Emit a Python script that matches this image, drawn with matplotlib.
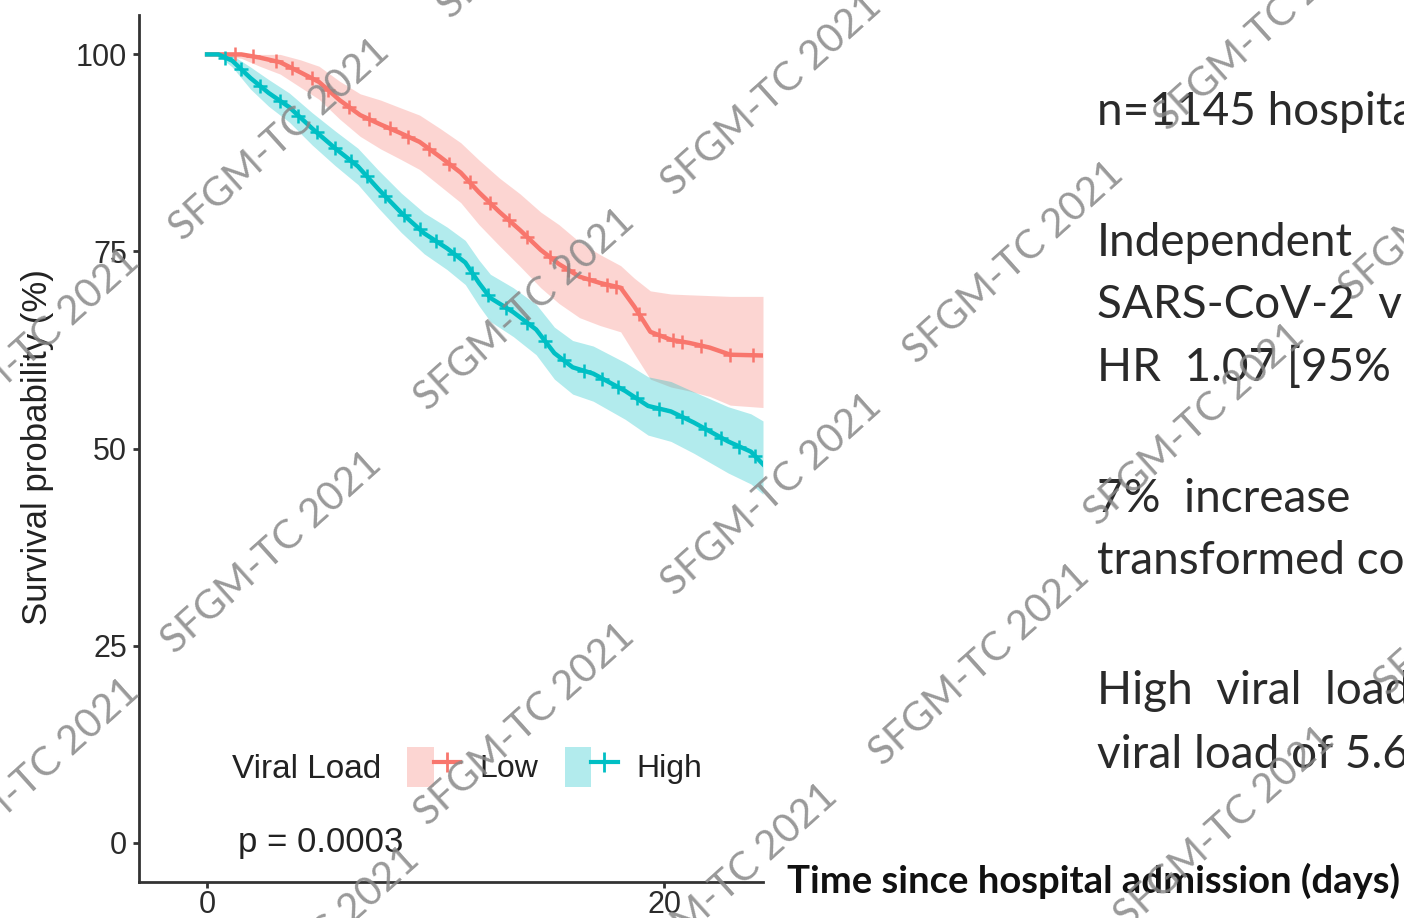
import numpy as np
import matplotlib
matplotlib.use("Agg")
import matplotlib.pyplot as plt
from matplotlib.patches import Patch
from matplotlib.lines import Line2D
from matplotlib.legend_handler import HandlerTuple

# ---------------- data ----------------
groups = ["Low", "High"]
colors = ["#F8766D", "#00BFC4"]

low_t = [0, 1.5, 2.3, 3.2, 4.1, 4.9, 5.8, 6.7, 7.6, 8.4, 9.3, 10.2, 11.1, 11.9, 12.8,
         13.7, 14.6, 15.4, 16.3, 17.2, 18.1, 18.7, 19.4, 20.3, 21.1, 22.0, 22.9, 24.33]
low_s = [100, 100, 99.6, 99, 97.7, 96.5, 94.2, 92.3, 91.1, 90.1, 88.9, 87, 85, 82.5, 80,
         77.7, 75.2, 73.4, 71.8, 71, 70.4, 68, 64.8, 63.8, 63.4, 62.8, 61.9, 61.8]
low_hi = [100, 100, 100, 100, 99.3, 98.5, 96.6, 95, 94.2, 93.3, 92.3, 90.6, 88.8, 86.6,
          84.3, 82.3, 80, 78.4, 76.2, 74.6, 73.2, 71.6, 70, 69.6, 69.5, 69.4, 69.3, 69.3]
low_lo = [100, 99.5, 98.5, 97.5, 95.8, 94.3, 91.8, 89.6, 88, 86.8, 85.4, 83.3, 81.2, 78.4,
          75.7, 73.1, 70.4, 68.4, 66.6, 65.6, 64.8, 62, 58.8, 57.8, 57.3, 56.6, 55.5, 55.2]
low_cens = [1.2, 2.0, 3.0, 3.7, 4.6, 5.3, 6.2, 7.1, 8.0, 8.8, 9.7, 10.6, 11.5, 12.4,
            13.2, 14.0, 15.0, 15.8, 16.7, 17.5, 17.9, 18.9, 19.8, 20.4, 20.8, 21.6,
            22.9, 23.9]

high_t = [0, 0.5, 1.1, 1.9, 2.7, 3.6, 4.6, 5.6, 6.6, 7.5, 8.5, 9.5, 10.5, 11.3, 11.9,
          12.4, 13.4, 14.4, 15.2, 16.0, 16.9, 18.3, 19.3, 20.3, 21.3, 22.8, 23.8, 24.33]
high_s = [100, 100, 99.2, 97, 95.1, 93.3, 90.6, 88.1, 85.8, 82.9, 79.9, 77.3, 75.4, 73.6,
          71, 69.1, 67.3, 65.1, 62.1, 60.3, 59.5, 57.3, 55.4, 54.7, 53.3, 50.9, 49.6, 48]
high_hi = [100, 100, 99.9, 98.4, 96.8, 95.1, 92.6, 90.3, 88.1, 85.3, 82.4, 79.9, 78.1,
           76.4, 73.9, 72.1, 70.4, 68.3, 65.4, 63.7, 63, 60.9, 59.1, 58.5, 57.2, 55.3,
           54.4, 53.5]
high_lo = [100, 99.8, 98.4, 95.6, 93.4, 91.4, 88.5, 85.9, 83.5, 80.5, 77.4, 74.7, 72.7,
           70.8, 68.1, 66.1, 64.2, 61.9, 58.8, 56.9, 56, 53.7, 51.7, 50.9, 49.4, 46.9,
           45.5, 44.2]
high_cens = [0.8, 1.5, 2.3, 3.2, 4.0, 4.8, 5.6, 6.3, 7.0, 7.8, 8.6, 9.3, 10.0, 10.8, 11.6,
             12.3, 13.1, 14.0, 14.8, 15.6, 16.5, 17.3, 18.0, 18.8, 19.8, 20.8, 21.8,
             22.5, 23.3, 24.0]

y_ticks = [0, 25, 50, 75, 100]
x_ticks = [0, 20]
y_label = "Survival probability (%)"
x_label = "Time since hospital admission (days)"
legend_title = "Viral Load"
p_text = "p = 0.0003"

side_lines = [
    ("n=1145 hospita", 125),
    ("Independent", 256),
    ("SARS-CoV-2  vi", 318),
    ("HR  1.07 [95%", 381),
    ("7%  increase", 512),
    ("transformed co", 574),
    ("High  viral  load", 704),
    ("viral load of 5.6", 768),
]
watermark = "SFGM-TC 2021"
wm_centers = [(280, 140), (772, 95), (1014, 263), (525, 310), (272, 553), (772, 495),
              (525, 725), (980, 665), (30, 350), (30, 780), (310, 948), (728, 885),
              (1265, 30), (1195, 425), (1450, 200), (1485, 595), (1225, 828),
              (548, -82)]

# ---------------- figure ----------------
W, H = 1404, 918
fig = plt.figure(figsize=(W / 100, H / 100), dpi=100)
fig.patch.set_facecolor("white")

ax = fig.add_axes([139 / W, (H - 882) / H, (763 - 139) / W, (882 - 15) / H])
ax.set_xlim(-2.98, 24.33)
ax.set_ylim(-5, 105)

series = [
    (low_t, low_s, low_lo, low_hi, low_cens, colors[0]),
    (high_t, high_s, high_lo, high_hi, high_cens, colors[1]),
]
for t, s, lo, hi, cens, c in series:
    ax.fill_between(t, lo, hi, color=c, alpha=0.3, lw=0)
    ax.plot(t, s, color=c, lw=3.2, solid_joinstyle="round")
    ax.plot(cens, np.interp(cens, t, s), ls="none", marker="+", ms=10, mew=1.8, color=c)

for side in ["top", "right"]:
    ax.spines[side].set_visible(False)
for side in ["left", "bottom"]:
    ax.spines[side].set_color("#333333")
    ax.spines[side].set_linewidth(2.0)

ax.set_yticks(y_ticks)
ax.set_xticks(x_ticks)
ax.tick_params(axis="both", direction="out", length=4.5, width=2.0, color="#333333",
               labelsize=22, labelcolor="#2b2b2b", pad=4)
ax.tick_params(axis="x", pad=1.5)
for lab in ax.get_xticklabels() + ax.get_yticklabels():
    lab.set_fontfamily("Liberation Sans")

fig.text(38 / W, (H - 447) / H, y_label, rotation=90, ha="center", va="center",
         fontsize=25, family="Liberation Sans", color="#222222")

ax.text(1.36, 0, p_text, ha="left", va="center", fontsize=25,
        family="Liberation Sans", color="#222222")

# legend
fig.text(232 / W, (H - 769) / H, legend_title, ha="left", va="center", fontsize=24,
         family="Liberation Sans", color="#222222")
handles = []
for c in colors:
    handles.append((Patch(facecolor=c, alpha=0.3, edgecolor="none"),
                    Line2D([], [], color=c, lw=3.0, marker="+", ms=14, mew=2)))
leg = ax.legend(handles, groups, handler_map={tuple: HandlerTuple(ndivide=None)},
                loc="center left", bbox_to_anchor=(407 / W, (H - 767) / H),
                bbox_transform=fig.transFigure, ncol=2, frameon=False,
                prop={"family": "Liberation Sans", "size": 23},
                handlelength=1.66, handleheight=1.56, handletextpad=0.6,
                columnspacing=0.83, borderpad=0, borderaxespad=0)
for txt in leg.get_texts():
    txt.set_color("#222222")

# right-hand text block
for s, yb in side_lines:
    fig.text(1097 / W, (H - yb) / H, s, ha="left", va="baseline", fontsize=33,
             family="Lato", color="#2a2a2a")

fig.text(787 / W, (H - 893) / H, x_label, ha="left", va="baseline", fontsize=27.5,
         family="Lato", fontweight="bold", color="#111111")

# watermarks
for (cx, cy) in wm_centers:
    fig.text(cx / W, (H - cy) / H, watermark, rotation=42, rotation_mode="anchor",
             ha="center", va="center", fontsize=29, family="Lato", fontweight="normal",
             color="#888888", alpha=0.85, zorder=10)

fig.savefig("out.png", dpi=100)
